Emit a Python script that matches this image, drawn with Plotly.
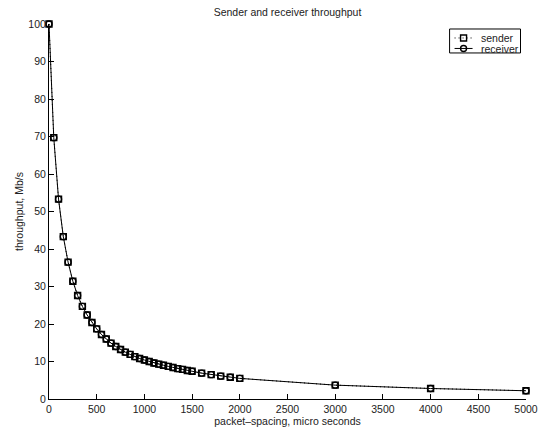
import plotly.graph_objects as go

spacing = [0, 50, 100, 150, 200, 250, 300, 350, 400, 450, 500, 550, 600, 650, 700,
           750, 800, 850, 900, 950, 1000, 1050, 1100, 1150, 1200, 1250, 1300, 1350,
           1400, 1450, 1500, 1600, 1700, 1800, 1900, 2000, 3000, 4000, 5000]
sender = [100, 69.7, 53.3, 43.3, 36.5, 31.4, 27.6, 24.7, 22.4, 20.4, 18.7, 17.2, 16.0,
          14.9, 14.0, 13.2, 12.5, 11.9, 11.3, 10.8, 10.4, 10.0, 9.6, 9.3, 9.0, 8.7,
          8.4, 8.1, 7.9, 7.6, 7.4, 6.9, 6.5, 6.1, 5.8, 5.5, 3.7, 2.8, 2.2]
receiver = [100, 69.7, 53.3, 43.3, 36.5, 31.4, 27.6, 24.7, 22.4, 20.4, 18.7, 17.2, 16.0,
            14.9, 14.0, 13.2, 12.5, 11.9, 11.3, 10.8, 10.4, 10.0, 9.6, 9.3, 9.0, 8.7,
            8.4, 8.1, 7.9, 7.6, 7.4, 6.9, 6.5, 6.1, 5.8, 5.5, 3.7, 2.8, 2.2]
series_names = ["sender", "receiver"]

FONT = "Liberation Sans, Arial, Helvetica, sans-serif"
FS = 10.5
TXT = "#222"

W, H = 541, 434
ML, MR, MT, MB = 49, 14.5, 24, 34.5
PW = W - ML - MR
PH = H - MT - MB


def px(xp):  # page pixel -> paper x
    return (xp - ML) / PW


def py(yp):  # page pixel -> paper y
    return (H - MB - yp) / PH


fig = go.Figure()
fig.add_trace(go.Scatter(
    x=spacing, y=sender, name=series_names[0], mode="lines+markers", cliponaxis=False,
    line=dict(color="black", width=1, dash="1px,3px"), showlegend=False,
    marker=dict(symbol="square-open", size=6, color="black", line=dict(width=1.4, color="black")),
))
fig.add_trace(go.Scatter(
    x=spacing, y=receiver, name=series_names[1], mode="lines+markers", cliponaxis=False,
    line=dict(color="black", width=1), showlegend=False,
    marker=dict(symbol="circle-open", size=6, color="black", line=dict(width=1.4, color="black")),
))

axis_common = dict(
    showline=True, linecolor="black", linewidth=1, mirror=False,
    ticks="inside", ticklen=5, tickcolor="black", tickwidth=1,
    showgrid=False, zeroline=False, automargin=False,
    tickfont=dict(family=FONT, size=FS, color=TXT),
)

# compact MATLAB-style legend drawn as decoration
shapes = [
    dict(type="rect", xref="paper", yref="paper", x0=px(450), x1=px(521), y0=py(53), y1=py(29),
         line=dict(color="black", width=1), fillcolor="white", layer="above"),
    dict(type="line", xref="paper", yref="paper", x0=px(455), x1=px(473), y0=py(38), y1=py(38),
         line=dict(color="black", width=1, dash="1px,3px"), layer="above"),
    dict(type="rect", xref="paper", yref="paper", x0=px(461), x1=px(467), y0=py(41), y1=py(35),
         line=dict(color="black", width=1.4), fillcolor="rgba(0,0,0,0)", layer="above"),
    dict(type="line", xref="paper", yref="paper", x0=px(455), x1=px(473), y0=py(48.5), y1=py(48.5),
         line=dict(color="black", width=1), layer="above"),
    dict(type="circle", xref="paper", yref="paper", x0=px(461), x1=px(467), y0=py(51.5), y1=py(45.5),
         line=dict(color="black", width=1.4), fillcolor="rgba(0,0,0,0)", layer="above"),
]
annotations = [
    dict(text=series_names[0], xref="paper", yref="paper", x=px(480), y=py(37.8),
         xanchor="left", yanchor="middle", showarrow=False, borderpad=0,
         font=dict(family=FONT, size=FS, color=TXT)),
    dict(text=series_names[1], xref="paper", yref="paper", x=px(480), y=py(48.7),
         xanchor="left", yanchor="middle", showarrow=False, borderpad=0,
         font=dict(family=FONT, size=FS, color=TXT)),
]

fig.update_layout(
    width=W, height=H,
    margin=dict(l=ML, r=MR, t=MT, b=MB),
    paper_bgcolor="white", plot_bgcolor="white",
    font=dict(family=FONT, size=FS, color=TXT),
    title=dict(text="Sender and receiver throughput", x=0.5, xref="paper",
               y=1 - 12 / H, yref="container", yanchor="middle", xanchor="center",
               font=dict(family=FONT, size=FS, color=TXT)),
    xaxis=dict(range=[0, 5000], tickvals=[0, 500, 1000, 1500, 2000, 2500, 3000, 3500, 4000, 4500, 5000],
               title=dict(text="packet\u2013spacing, micro seconds", standoff=0,
                          font=dict(family=FONT, size=FS, color=TXT)),
               **axis_common),
    yaxis=dict(range=[0, 100], tickvals=[0, 10, 20, 30, 40, 50, 60, 70, 80, 90, 100],
               title=dict(text="throughput, Mb/s", standoff=2,
                          font=dict(family=FONT, size=FS, color=TXT)),
               **axis_common),
    shapes=shapes,
    annotations=annotations,
    showlegend=False,
)

fig.write_html("out.html", config={"displayModeBar": False},
               post_script="document.body.style.margin='0';document.body.style.overflow='hidden';")
